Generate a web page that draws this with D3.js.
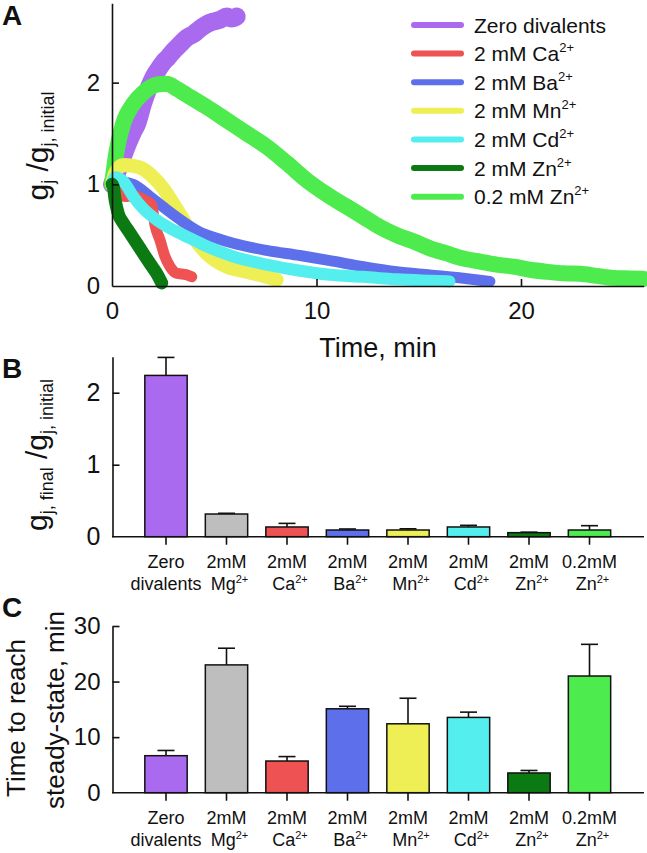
<!DOCTYPE html>
<html>
<head>
<meta charset="utf-8">
<script src="https://cdn.jsdelivr.net/npm/d3@7"></script>
<style>
  html, body { margin: 0; padding: 0; background: #fff; }
  svg { display: block; }
  text { font-family: "Liberation Sans", Arial, sans-serif; fill: #111; }
</style>
</head>
<body>
<script>
// ---------------- DATA ----------------
// Panel A: time courses (time in min, gj/gj,initial)
const tZero   = [0, 0.3, 0.55, 0.8, 1.04, 1.2, 1.53, 1.8, 2.02, 2.3, 2.51, 2.75, 3.0, 3.3, 3.65, 4.0, 4.3, 4.6, 4.95, 5.3, 5.61, 5.85, 6.1];
const gZero   = [1.0, 1.14, 1.28, 1.41, 1.52, 1.58, 1.8, 1.95, 2.05, 2.14, 2.2, 2.25, 2.31, 2.37, 2.44, 2.48, 2.53, 2.57, 2.6, 2.62, 2.65, 2.63, 2.65];

const tCa = [0, 0.15, 0.64, 1.04, 1.53, 1.94, 2.1, 2.35, 2.59, 2.84, 3.16, 3.65, 3.9];
const gCa = [1.0, 0.96, 0.88, 0.89, 0.85, 0.80, 0.60, 0.45, 0.29, 0.19, 0.125, 0.11, 0.09];

const tBa = [0, 0.5, 1.04, 1.86, 2.67, 3.49, 4.3, 5.12, 5.93, 7.56, 9.19, 10.66, 12.29, 13.92, 15.55, 17.18, 18.48];
const gBa = [1.0, 1.02, 1.0, 0.88, 0.75, 0.63, 0.53, 0.47, 0.42, 0.35, 0.30, 0.25, 0.19, 0.14, 0.108, 0.076, 0.045];

const tMn = [0, 0.15, 0.55, 1.04, 1.53, 2.02, 2.51, 3.0, 3.49, 3.98, 4.63, 5.61, 6.59, 7.56, 8.05];
const gMn = [1.0, 1.11, 1.19, 1.18, 1.15, 1.07, 0.96, 0.81, 0.65, 0.48, 0.32, 0.19, 0.14, 0.09, 0.06];

const tCd = [0, 0.15, 0.55, 1.04, 1.53, 2.18, 3.0, 3.81, 4.63, 5.93, 7.56, 9.19, 10.66, 12.29, 13.92, 15.55, 16.5];
const gCd = [1.0, 1.07, 1.03, 0.88, 0.76, 0.65, 0.55, 0.47, 0.39, 0.29, 0.21, 0.15, 0.11, 0.09, 0.066, 0.052, 0.045];

const tZn2 = [0, 0.07, 0.15, 0.31, 0.55, 0.88, 1.21, 1.53, 1.86, 2.18, 2.43];
const gZn2 = [1.0, 0.97, 0.85, 0.71, 0.62, 0.52, 0.42, 0.32, 0.22, 0.125, 0.03];

const tZn02 = [0, 0.23, 0.55, 1.04, 1.53, 2.18, 2.67, 3.16, 3.81, 4.63, 5.61, 6.59, 7.56, 8.54, 9.52, 10.66, 11.48, 12.29, 13.1, 13.92, 14.73, 15.55, 16.37, 17.18, 18.0, 18.81, 19.63, 20.44, 21.26, 22.07, 22.89, 23.7, 24.52, 25.33, 26.0];
const gZn02 = [1.0, 1.33, 1.6, 1.79, 1.9, 1.98, 1.99, 1.94, 1.86, 1.76, 1.63, 1.50, 1.37, 1.21, 1.04, 0.88, 0.78, 0.68, 0.58, 0.50, 0.44, 0.37, 0.32, 0.27, 0.24, 0.21, 0.19, 0.16, 0.14, 0.125, 0.12, 0.10, 0.08, 0.075, 0.07];

const legendMain = ["Zero divalents", "2 mM Ca", "2 mM Ba", "2 mM Mn", "2 mM Cd", "2 mM Zn", "0.2 mM Zn"];
const legendSup  = ["", "2+", "2+", "2+", "2+", "2+", "2+"];
const xTicksA = [0, 10, 20];
const yTicksA = [0, 1, 2];

// Panels B and C: categories
const catLine1 = ["Zero", "2mM", "2mM", "2mM", "2mM", "2mM", "2mM", "0.2mM"];
const catLine2 = ["divalents", "Mg", "Ca", "Ba", "Mn", "Cd", "Zn", "Zn"];
const catSup   = ["", "2+", "2+", "2+", "2+", "2+", "2+", "2+"];

const ratioMean = [2.24, 0.315, 0.135, 0.093, 0.093, 0.135, 0.056, 0.093];
const ratioSem  = [0.25, 0.01, 0.05, 0.014, 0.017, 0.023, 0.007, 0.06];
const yTicksB = [0, 1, 2];

const timeMean = [6.66, 23.0, 5.7, 15.1, 12.4, 13.55, 3.55, 21.0];
const timeSem  = [0.94, 3.0, 0.8, 0.45, 4.6, 0.95, 0.45, 5.7];
const yTicksC = [0, 10, 20, 30];

// colours
const cZero = "#AA6AF0", cMg = "#BEBEBE", cCa = "#EE5252", cBa = "#5D6FEA",
      cMn = "#EEEE55", cCd = "#55EEEE", cZn2 = "#0B7A12", cZn02 = "#4DEB4D";
const barColors = [cZero, cMg, cCa, cBa, cMn, cCd, cZn2, cZn02];
const legendColors = [cZero, cCa, cBa, cMn, cCd, cZn2, cZn02];

// ---------------- CHART ----------------
const W = 647, H = 853;
const svg = d3.select("body").append("svg").attr("width", W).attr("height", H);
const FONT = '"Liberation Sans", Arial, sans-serif';
const fmt = d3.format("d");

function styleAxis(g) {
  g.selectAll("path.domain").attr("stroke", "#111").attr("stroke-width", 1.6);
  g.selectAll(".tick line").attr("stroke", "#111").attr("stroke-width", 1.6);
  g.selectAll(".tick text").attr("font-family", FONT).attr("fill", "#111");
}

// ---- Panel A ----
const xA = d3.scaleLinear().domain([0, 26]).range([112, 643.7]);
const yA = d3.scaleLinear().domain([0, 2.78]).range([286, 3.3]);

const series = [
  {t: tZero, g: gZero, c: cZero, w: 18},
  {t: tZn02, g: gZn02, c: cZn02, w: 16},
  {t: tMn, g: gMn, c: cMn, w: 14},
  {t: tBa, g: gBa, c: cBa, w: 11},
  {t: tCa, g: gCa, c: cCa, w: 11},
  {t: tCd, g: gCd, c: cCd, w: 12},
  {t: tZn2, g: gZn2, c: cZn2, w: 13}
];
const line = d3.line().x(d => xA(d[0])).y(d => yA(d[1])).curve(d3.curveMonotoneX);
series.forEach(s => {
  svg.append("path")
    .attr("d", line(s.t.map((t, i) => [t, s.g[i]])))
    .attr("fill", "none").attr("stroke", s.c).attr("stroke-width", s.w)
    .attr("stroke-linejoin", "round").attr("stroke-linecap", "round");
});

const gxA = svg.append("g").attr("transform", `translate(0,${yA(0)})`)
  .call(d3.axisBottom(xA).tickValues(xTicksA).tickFormat(fmt).tickSizeInner(-7).tickSizeOuter(0).tickPadding(16));
styleAxis(gxA);
gxA.selectAll(".tick text").attr("font-size", 24);
gxA.selectAll(".tick").filter(d => d === 0).select("line").remove();

const gyA = svg.append("g").attr("transform", `translate(${xA(0)},0)`)
  .call(d3.axisLeft(yA).tickValues(yTicksA).tickFormat(fmt).tickSizeInner(-7).tickSizeOuter(0).tickPadding(12));
styleAxis(gyA);
gyA.selectAll(".tick text").attr("font-size", 24);
gyA.selectAll(".tick").filter(d => d === 0).select("line").remove();

svg.append("text").attr("x", 378).attr("y", 357).attr("text-anchor", "middle")
  .attr("font-size", 27).text("Time, min");

// y label A
{
  const t = svg.append("text").attr("transform", "translate(48,146) rotate(-90)")
    .attr("text-anchor", "middle").attr("font-size", 30);
  t.append("tspan").text("g");
  t.append("tspan").attr("font-size", 18).attr("dy", 6).text("j");
  t.append("tspan").attr("dy", -6).text(" /g");
  t.append("tspan").attr("font-size", 18).attr("dy", 6).text("j, initial");
}

// legend
const legY = d3.scalePoint().domain(d3.range(legendMain.length)).range([25, 196.7]);
legendMain.forEach((name, i) => {
  const y = legY(i);
  svg.append("line").attr("x1", 414).attr("x2", 461).attr("y1", y).attr("y2", y)
    .attr("stroke", legendColors[i])
    .attr("stroke-width", 6).attr("stroke-linecap", "round");
  const t = svg.append("text").attr("x", 474).attr("y", y + 7.5).attr("font-size", 21);
  t.append("tspan").text(name);
  if (legendSup[i]) t.append("tspan").attr("font-size", 13).attr("dy", -9).text(legendSup[i]);
});

svg.append("text").attr("x", 2).attr("y", 25).attr("font-size", 28).attr("font-weight", "bold").text("A");

// ---- Bar panel helper ----
const xCat = d3.scaleBand().domain(d3.range(catLine1.length)).range([135.75, 619.75]).paddingInner(0.3).paddingOuter(0.15);

function barPanel(yScale, means, sems, ticks, line1Y, line2Y, tickFont) {
  const y0 = yScale(0);
  const bw = xCat.bandwidth();
  // error bars
  means.forEach((m, i) => {
    const cx = xCat(i) + bw / 2;
    svg.append("line").attr("x1", cx).attr("x2", cx).attr("y1", yScale(m)).attr("y2", yScale(m + sems[i]))
      .attr("stroke", "#111").attr("stroke-width", 1.6);
    svg.append("line").attr("x1", cx - 8.5).attr("x2", cx + 8.5).attr("y1", yScale(m + sems[i])).attr("y2", yScale(m + sems[i]))
      .attr("stroke", "#111").attr("stroke-width", 1.6);
  });
  // bars
  svg.append("g").selectAll("rect").data(means).join("rect")
    .attr("x", (d, i) => xCat(i)).attr("width", bw)
    .attr("y", d => yScale(d)).attr("height", d => y0 - yScale(d))
    .attr("fill", (d, i) => barColors[i]).attr("stroke", "#111").attr("stroke-width", 1.5);
  // x axis line
  svg.append("line").attr("x1", 112).attr("x2", 644).attr("y1", y0).attr("y2", y0)
    .attr("stroke", "#111").attr("stroke-width", 1.6);
  const gx = svg.append("g").attr("transform", `translate(0,${y0})`)
    .call(d3.axisBottom(xCat).tickSizeInner(8).tickSizeOuter(0).tickFormat(""));
  styleAxis(gx);
  gx.select("path.domain").remove();
  // category labels
  catLine1.forEach((l1, i) => {
    const cx = xCat(i) + bw / 2;
    svg.append("text").attr("x", cx).attr("y", line1Y).attr("text-anchor", "middle").attr("font-size", 18).text(l1);
    const t = svg.append("text").attr("x", cx + (catSup[i] ? 3 : 0)).attr("y", line2Y).attr("text-anchor", "middle").attr("font-size", 18);
    t.append("tspan").text(catLine2[i]);
    if (catSup[i]) t.append("tspan").attr("font-size", 11).attr("dy", -7).text(catSup[i]);
  });
  // y axis
  const gy = svg.append("g").attr("transform", `translate(112.5,0)`)
    .call(d3.axisLeft(yScale).tickValues(ticks).tickFormat(fmt).tickSizeInner(-7).tickSizeOuter(0).tickPadding(12));
  styleAxis(gy);
  gy.selectAll(".tick text").attr("font-size", tickFont);
  gy.selectAll(".tick").filter(d => d === 0).select("line").remove();
}

// ---- Panel B ----
const yB = d3.scaleLinear().domain([0, 2.5]).range([536.7, 356.7]);
barPanel(yB, ratioMean, ratioSem, yTicksB, 568, 590, 25);
{
  const t = svg.append("text").attr("transform", "translate(47,455) rotate(-90)")
    .attr("text-anchor", "middle").attr("font-size", 30);
  t.append("tspan").text("g");
  t.append("tspan").attr("font-size", 18).attr("dy", 6).text("j, final");
  t.append("tspan").attr("dy", -6).text(" /g");
  t.append("tspan").attr("font-size", 18).attr("dy", 6).text("j, initial");
}
svg.append("text").attr("x", 2).attr("y", 378).attr("font-size", 28).attr("font-weight", "bold").text("B");

// ---- Panel C ----
const yC = d3.scaleLinear().domain([0, 30]).range([792.7, 626]);
barPanel(yC, timeMean, timeSem, yTicksC, 824, 846, 24);
svg.append("text").attr("transform", "translate(25,718) rotate(-90)").attr("text-anchor", "middle")
  .attr("font-size", 26).text("Time to reach");
svg.append("text").attr("transform", "translate(64,710) rotate(-90)").attr("text-anchor", "middle")
  .attr("font-size", 26).text("steady-state, min");
svg.append("text").attr("x", 2).attr("y", 617).attr("font-size", 28).attr("font-weight", "bold").text("C");
</script>
</body>
</html>
